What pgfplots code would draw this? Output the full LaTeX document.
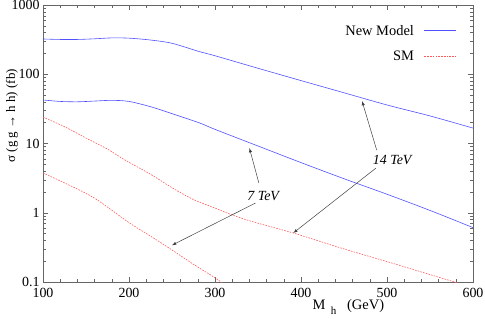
\documentclass[border=0pt]{standalone}
\usepackage{pgfplots}
\pgfplotsset{compat=1.18}
\usepackage{fontspec}
\setmainfont{Liberation Serif}
\definecolor{nmblue}{RGB}{80,80,255}
\definecolor{smred}{RGB}{255,90,90}
\begin{document}
\begin{tikzpicture}
\begin{axis}[
  scale only axis,
  width=430bp, height=277bp,
  xmin=100, xmax=600, ymode=log, ymin=0.1, ymax=1000,
  xtick={100,200,300,400,500,600},
  minor x tick num=4,
  ytick={0.1,1,10,100,1000},
  yticklabels={0.1,1,10,100,1000},
  tick align=inside,
  axis line style={gray!80!black},
  every tick/.style={gray!80!black},
  major tick length=5pt, minor tick length=3pt,
  tick label style={font=\fontsize{14}{16}\selectfont},
  xticklabel style={yshift=-3pt},
  /pgf/number format/assume math mode=true,
  xlabel={M\raisebox{-5pt}{\fontsize{11}{13}\selectfont\ \ h}\ \ \ (GeV)},
  xlabel style={at={(axis description cs:0.71,-0.09)}, anchor=center, font=\fontsize{14.5}{16}\selectfont},
  ylabel={σ (g g → h h) (fb)},
  ylabel style={at={(axis description cs:-0.072,0.6)}, anchor=center, font=\fontsize{13}{15}\selectfont},
  legend plot pos=right,
  legend cell align=right,
  legend style={draw=none, fill=none, at={(axis description cs:0.962,0.935)}, anchor=north east, font=\fontsize{14.5}{16}\selectfont, row sep=10pt, inner sep=0pt},
]
\addlegendimage{legend image code/.code={\node[draw=none, fill=none, inner sep=0pt, minimum width=0.56in, minimum height=2pt, anchor=west] at (0in,0in) {}; \draw[draw=nmblue, line width=0.8pt] (0.12in,0.2pt) -- (0.56in,0.2pt);}}
\addlegendentry{New Model}
\addlegendimage{legend image code/.code={\node[draw=none, fill=none, inner sep=0pt, minimum width=0.56in, minimum height=2pt, anchor=west] at (0in,0in) {}; \draw[draw=smred, line width=0.8pt, dash pattern=on 1.6pt off 1.2pt] (0.12in,0.2pt) -- (0.56in,0.2pt);}}
\addlegendentry{SM}
\addplot[nmblue, line width=0.6pt, smooth, forget plot] coordinates {
(100,323)(120,318)(140,318)(160,325)(180,335)(200,332)(225,312)(250,280)(282,212)(300,185)(350,122)(400,81)(450,54)(500,36)(550,25)(600,16.7)};
\addplot[smred, line width=0.6pt, dash pattern=on 1.6pt off 1.2pt, smooth, forget plot] coordinates {
(100,24)(125,17.5)(150,12)(175,8.3)(195,5.8)(225,3.6)(250,2.3)(275,1.55)(300,1.17)(317,0.96)(341,0.76)(391,0.51)(450,0.30)(500,0.197)(550,0.128)(600,0.083)};
\addplot[nmblue, line width=0.6pt, smooth, forget plot] coordinates {
(100,42.5)(120,40.5)(140,40)(160,41)(180,42)(200,40.5)(225,34)(250,27)(282,19.8)(300,16)(350,9.2)(400,5.3)(450,3.1)(500,1.85)(550,1.08)(600,0.61)};
\addplot[smred, line width=0.6pt, dash pattern=on 1.6pt off 1.2pt, smooth, forget plot] coordinates {
(100,3.75)(125,2.7)(150,1.9)(166,1.45)(200,0.72)(225,0.46)(250,0.29)(275,0.18)(300,0.115)(325,0.07)(350,0.045)};
\draw[-latex, gray!50!black, line width=0.5pt] (axis cs:488,8.05) -- (axis cs:471,41);
\draw[-latex, gray!50!black, line width=0.5pt] (axis cs:487,4.4) -- (axis cs:391,0.51);
\draw[-latex, gray!50!black, line width=0.5pt] (axis cs:351,2.69) -- (axis cs:340,8.6);
\draw[-latex, gray!50!black, line width=0.5pt] (axis cs:347,1.38) -- (axis cs:250,0.34);
\node[font=\fontsize{14}{16}\selectfont\itshape] at (axis cs:506,5.8) {14 TeV};
\node[font=\fontsize{14}{16}\selectfont\itshape] at (axis cs:356,1.75) {7 TeV};
\coordinate (O) at (rel axis cs:0,0);
\end{axis}
\pgfresetboundingbox
\path (O) ++(-43bp,-37bp) rectangle ++(485bp,319bp);
\end{tikzpicture}
\end{document}
